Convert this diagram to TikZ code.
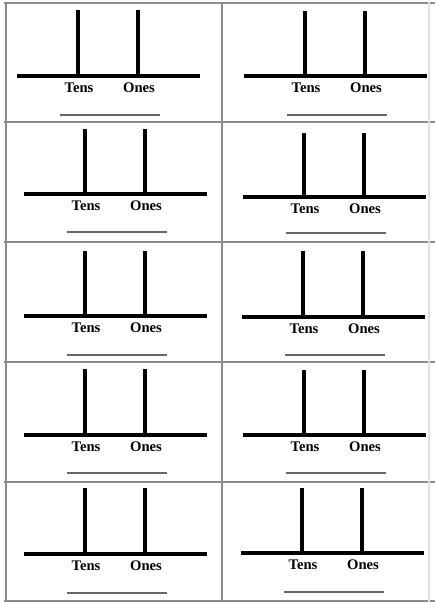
\documentclass[tikz,border=0pt]{standalone}
\usepackage{fontspec}
\setmainfont{Liberation Serif}
\begin{document}
\begin{tikzpicture}[x=0.75pt, y=-0.75pt,
    every node/.style={font=\fontsize{11}{13}\selectfont\bfseries, inner sep=0pt},
    frame/.style={line width=1.5pt, black!45},
    rod/.style={line width=2.5pt, black},
    answer/.style={line width=1.8pt, black!60},
]
    \useasboundingbox (0,0) rectangle (435,603);
    % card grid
    \draw[frame] (4,2.5) -- (435,2.5);
    \foreach \ry in {122,242,362,482} \draw[frame] (4,\ry) -- (435,\ry);
    \draw[frame] (4,601) -- (435,601);
    \draw[frame] (6,2) -- (6,602);
    \draw[frame] (222,2) -- (222,602);
    \draw[line width=1pt, black!12] (429,2) -- (429,602);
    % place-value cards: tens post x / post top / baseline y / answer line y
    \foreach \px/\ty/\by/\uy [count=\i] in {78/10/76/115, 85/129/194/232, 85/251/316/355,
        85/369/435/473, 85/488/554/593, 305/11/76/115, 304/133/197/233, 303/251/317/355,
        304/370/435/473, 302/488/553/592} {
        \coordinate (tens\i) at (\px,\by);
        \coordinate (ones\i) at (\px+60,\by);
        \draw[rod] (\px-61,\by) -- (\px+122,\by);
        \draw[rod] (tens\i) -- (\px,\ty);
        \draw[rod] (ones\i) -- (\px+60,\ty);
        \node (tl\i) at (\px+1,\by+12) {Tens};
        \node (ol\i) at (\px+61,\by+12) {Ones};
        \draw[answer] (\px-18,\uy) -- (\px+82,\uy);
    }
\end{tikzpicture}
\end{document}
